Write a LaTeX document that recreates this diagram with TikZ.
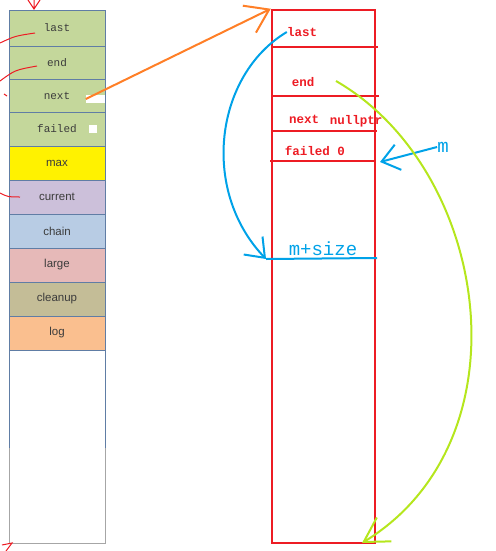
\documentclass[tikz,border=0pt]{standalone}
\usepackage{fontspec}
\setmainfont{Liberation Sans}
\newfontfamily\monofont{Liberation Mono}
\usetikzlibrary{arrows.meta, positioning}
\definecolor{cellline}{RGB}{96,125,165}
\definecolor{celltext}{RGB}{60,60,60}
\definecolor{cgreen}{RGB}{196,215,155}
\definecolor{cyellow}{RGB}{255,242,0}
\definecolor{clav}{RGB}{204,192,218}
\definecolor{cblue}{RGB}{184,204,228}
\definecolor{cpink}{RGB}{230,185,184}
\definecolor{ctan}{RGB}{196,189,151}
\definecolor{corange}{RGB}{250,191,143}
\definecolor{pred}{RGB}{237,28,36}
\definecolor{porange}{RGB}{255,127,39}
\definecolor{pblue}{RGB}{0,162,232}
\definecolor{pgreen}{RGB}{181,230,29}

\begin{document}
\begin{tikzpicture}[
  x=1pt, y=-1pt,
  cell/.style={draw=cellline, line width=0.9pt, minimum width=96pt, minimum height=34pt, inner sep=0pt, text=celltext, font=\fontsize{11.5}{13}\selectfont},
  mcell/.style={cell, fill=cgreen, font=\monofont\fontsize{11}{13}\selectfont},
  redlabel/.style={text=pred, inner sep=0pt, font=\monofont\bfseries\fontsize{12.5}{14}\selectfont},
  redline/.style={draw=pred, line width=2.5pt},
  redmark/.style={draw=pred, line width=1pt},
  bluelabel/.style={text=pblue, inner sep=0pt, font=\monofont\fontsize{19}{21}\selectfont},
  orangearrow/.style={draw=porange, line width=2pt, -{Straight Barb[length=22pt, width=30pt, line width=2pt]}},
  bluearrow/.style={draw=pblue, line width=2pt, -{Straight Barb[length=17pt, width=26pt, line width=2pt]}},
  greenarrow/.style={draw=pgreen, line width=2pt, -{Straight Barb[length=24pt, width=28pt, line width=2pt]}}
]
\useasboundingbox (0,0) rectangle (495,551);

% struct fields
\node[mcell, minimum height=36pt] (last) at (57,28) {last};
\node[mcell, minimum height=33pt] (end) at (57,62.5) {end};
\node[mcell, minimum height=33pt] (next) at (57,95.5) {next};
\node[mcell] (failed) at (57,129) {failed};
\node[cell, fill=cyellow] (max) at (57,163) {max};
\node[cell, fill=clav] (current) at (57,197) {current};
\node[cell, fill=cblue] (chain) at (57,231) {chain};
\node[cell, fill=cpink] (large) at (57,265) {large};
\node[cell, fill=ctan] (cleanup) at (57,299) {cleanup};
\node[cell, fill=corange] (log) at (57,333) {log};
\draw[draw=cellline, line width=0.9pt] (9,350) -- (9,448) (105,350) -- (105,448);
\draw[draw=black!35, line width=0.9pt] (9,448) -- (9,543) -- (105,543) -- (105,448);

% white marks
\node[fill=white, minimum width=19pt, minimum height=8pt, inner sep=0pt] (nx) at (95.5,99) {};
\node[fill=white, minimum width=8pt, minimum height=8pt, inner sep=0pt] (fx) at (93,129) {};

% red pen marks
\draw[redmark] (28,0) -- (34,9) -- (40,0) (34,0) -- (34,9);
\draw[redmark] (0,43) .. controls (15,36) .. (35,33);
\draw[redmark] (0,81) .. controls (15,70) .. (37,66);
\draw[redmark] (0,193) .. controls (8,197) .. (20,197);
\draw[redmark] (4,94) -- (7,96);
\draw[redmark] (2,545) -- (12,543) -- (6,551);

% memory block
\node[draw=pred, line width=2.5pt, minimum width=103pt, minimum height=533pt, inner sep=0pt] (blk) at (323.5,276.5) {};
\draw[redline] (272,47) -- (378,47);
\draw[redline] (272,96) -- (379,96);
\draw[redline] (272,131) -- (377,131);
\draw[redline] (270,161) -- (376,161);

% Labels
\node[redlabel] (lastR) at (302,32) {last};
\node[redlabel] (endR) at (303,82) {end};
\node[redlabel] (nextR) at (304,119) {next};
\node[redlabel] (nullR) at (356,121) {nullptr};
\node[redlabel] (failR) at (315,151) {failed 0};
\node[bluelabel] (msize) at (323,249) {m+size};
\node[bluelabel] (mlbl) at (443,147) {m};

% pointers
\coordinate (msz) at (266,259);
\coordinate (mtip) at (380,162);
\coordinate (gstart) at (336,81);
\coordinate (gend) at (362,543);
\draw[draw=pblue, line width=2pt] (msz) -- (377,258);
\draw[orangearrow] (nx.west) -- (blk.north west);
\draw[bluearrow] (lastR.west) .. controls (215,75) and (200,190) .. (msz);
\draw[bluearrow] (mlbl.west) -- (mtip);
\draw[greenarrow] (gstart) .. controls (490,170) and (530,440) .. (gend);

\end{tikzpicture}
\end{document}
